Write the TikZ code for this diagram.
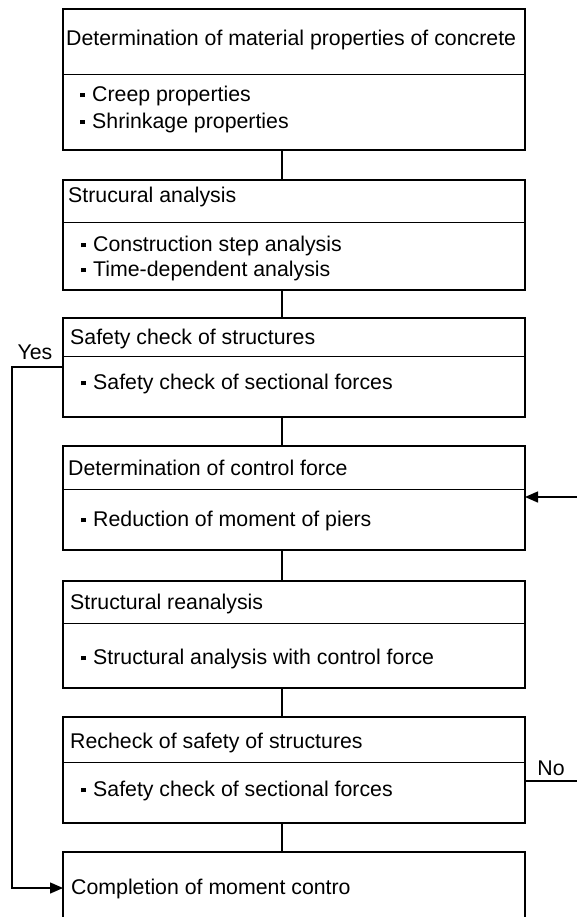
\documentclass[tikz,border=0pt]{standalone}
\usepackage{fontspec}
\setmainfont{Liberation Sans}
\usetikzlibrary{arrows.meta}

% small square bullet in front of list items
\newcommand\bul{\rule[4pt]{4.5pt}{4.5pt}\hspace{7.5pt}}

\begin{document}
\begin{tikzpicture}[x=1pt,y=-1pt,
  stepbox/.style={draw, line width=2.8pt, minimum width=462pt, anchor=north west,
                  inner sep=0pt, outer sep=0pt},
  divider/.style={line width=1pt},
  link/.style={line width=2.8pt},
  loop/.style={line width=1.4pt},
  tip/.style={-{Triangle[length=13pt,width=11pt]}},
  txt/.style={anchor=west, inner sep=0pt, text height=15pt, text depth=4.5pt,
              font=\fontsize{21.3}{26}\selectfont},
  lbl/.style={inner sep=0pt, font=\fontsize{21.3}{26}\selectfont},
]
\useasboundingbox (0,0) rectangle (577,917);

% x positions of the vertical connectors and of the side loops
\coordinate (cx)  at (282,0);
\coordinate (yx)  at (12,0);
\coordinate (nx)  at (600,0);

% the seven steps
\node[stepbox, minimum height=141pt] (b1) at (63,9)   {};
\node[stepbox, minimum height=110pt] (b2) at (63,180) {};
\node[stepbox, minimum height=99pt]  (b3) at (63,318) {};
\node[stepbox, minimum height=104pt] (b4) at (63,446) {};
\node[stepbox, minimum height=107pt] (b5) at (63,581) {};
\node[stepbox, minimum height=106pt] (b6) at (63,717) {};
\node[stepbox, minimum height=100pt] (b7) at (63,852) {};

% header / body separators
\draw[divider] (b1.west |- 0,75)  -- (b1.east |- 0,75);
\draw[divider] (b2.west |- 0,223) -- (b2.east |- 0,223);
\draw[divider] (b3.west |- 0,356) -- (b3.east |- 0,356);
\draw[divider] (b4.west |- 0,489) -- (b4.east |- 0,489);
\draw[divider] (b5.west |- 0,623) -- (b5.east |- 0,623);
\draw[divider] (b6.west |- 0,762) -- (b6.east |- 0,762);

% headers
\node[txt] (t1) at (66,40)  {Determination of material properties of concrete};
\node[txt] (t2) at (68,197) {Strucural analysis};
\node[txt] (t3) at (70,339) {Safety check of structures};
\node[txt] (t4) at (68,470) {Determination of control force};
\node[txt] (t5) at (70,604) {Structural reanalysis};
\node[txt] (t6) at (70,743) {Recheck of safety of structures};
\node[txt] (t7) at (71,889) {Completion of moment contro};

% list items
\node[txt] (i1a) at (80,96)  {\bul Creep properties};
\node[txt] (i1b) at (80,123) {\bul Shrinkage properties};
\node[txt] (i2a) at (81,246) {\bul Construction step analysis};
\node[txt] (i2b) at (81,271) {\bul Time-dependent analysis};
\node[txt] (i3)  at (81,384) {\bul Safety check of sectional forces};
\node[txt] (i4)  at (81,521) {\bul Reduction of moment of piers};
\node[txt] (i5)  at (81,659) {\bul Structural analysis with control force};
\node[txt] (i6)  at (81,791) {\bul Safety check of sectional forces};

% main flow
\draw[link] (b1.south -| cx) -- (b2.north -| cx);
\draw[link] (b2.south -| cx) -- (b3.north -| cx);
\draw[link] (b3.south -| cx) -- (b4.north -| cx);
\draw[link] (b4.south -| cx) -- (b5.north -| cx);
\draw[link] (b5.south -| cx) -- (b6.north -| cx);
\draw[link] (b6.south -| cx) -- (b7.north -| cx);

% "Yes" branch: skip to completion
\coordinate (yesout) at (b3.west |- 0,367);
\coordinate (yesin)  at (b7.west |- 0,888);
\draw[loop, tip] (yesout) -| (yx |- yesout) |- (yesin);
\node[lbl] (yes) at (35,352) {Yes};

% "No" branch: back to control force determination
\coordinate (noout) at (b6.east |- 0,781);
\coordinate (noin)  at (b4.east |- 0,497);
\draw[loop, tip] (noout) -| (nx |- noin) -- (noin);
\node[lbl] (no) at (551,768) {No};
\end{tikzpicture}
\end{document}
